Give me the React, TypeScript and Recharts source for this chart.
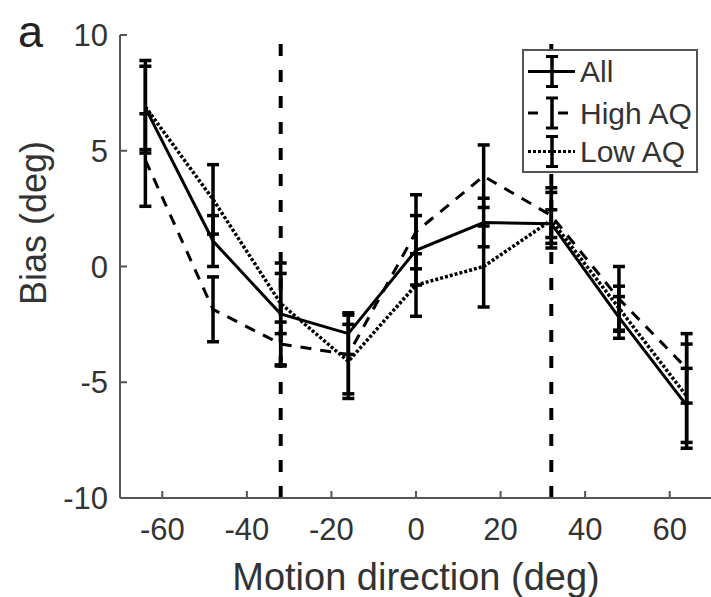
import React from "react";
import {
  ComposedChart,
  Line,
  XAxis,
  YAxis,
  ErrorBar,
  ReferenceLine,
  Label,
} from "recharts";

const directions = [-64, -48, -32, -16, 0, 16, 32, 48, 64];
const allBias = [6.85, 1.1, -2.05, -2.9, 0.7, 1.9, 1.85, -2.2, -6.0];
const allErr = [1.8, 1.1, 2.2, 0.9, 1.5, 1.05, 0.6, 0.9, 1.6];
const highBias = [4.6, -1.85, -3.35, -3.8, 1.5, 3.9, 2.2, -1.4, -4.4];
const highErr = [2.0, 1.4, 0.95, 1.7, 1.6, 1.35, 1.2, 1.4, 1.5];
const lowBias = [6.9, 2.9, -1.6, -4.1, -0.8, 0.0, 2.0, -1.8, -5.6];
const lowErr = [2.0, 1.5, 1.3, 1.6, 1.35, 1.75, 1.2, 0.95, 2.25];

const xTicks = [-60, -40, -20, 0, 20, 40, 60];
const yTicks = [-10, -5, 0, 5, 10];
const boundaries = [-32, 32];

const seriesNames = ["All", "High AQ", "Low AQ"];

const data = directions.map((d, i) => ({
  dir: d,
  all: allBias[i],
  allErr: allErr[i],
  high: highBias[i],
  highErr: highErr[i],
  low: lowBias[i],
  lowErr: lowErr[i],
}));

const FONT = "'Liberation Sans', Arial, Helvetica, sans-serif";
const TEXT = "#333";
const AXIS = "#555";
const TICK_LEN = 7;
const Y_MARGIN = 12;
const X_MARGIN = 20;
const TICK_FONT = 31;

const LeftTick = (props: any) => {
  const { x, y, payload } = props;
  return (
    <g>
      <line x1={x + Y_MARGIN} x2={x + Y_MARGIN + TICK_LEN} y1={y} y2={y} stroke={AXIS} strokeWidth={2} />
      <text x={x} y={y} dy="0.355em" textAnchor="end" fill={TEXT} fontSize={TICK_FONT} fontFamily={FONT}>
        {payload.value}
      </text>
    </g>
  );
};

const RightTick = (props: any) => {
  const { x, y } = props;
  return <line x1={x - TICK_LEN} x2={x} y1={y} y2={y} stroke={AXIS} strokeWidth={2} />;
};

const BottomTick = (props: any) => {
  const { x, y, payload } = props;
  return (
    <g>
      <line x1={x} x2={x} y1={y - X_MARGIN} y2={y - X_MARGIN - TICK_LEN} stroke={AXIS} strokeWidth={2} />
      <text x={x} y={y} dy="0.71em" textAnchor="middle" fill={TEXT} fontSize={TICK_FONT} fontFamily={FONT}>
        {payload.value}
      </text>
    </g>
  );
};

const TopTick = (props: any) => {
  const { x, y } = props;
  return <line x1={x} x2={x} y1={y} y2={y + TICK_LEN} stroke={AXIS} strokeWidth={2} />;
};

const YLabelContent = () => {
  const cx = 33;
  const cy = 223;
  return (
    <g>
      <text
        x={cx}
        y={cy}
        transform={`rotate(-90, ${cx}, ${cy})`}
        textAnchor="middle"
        dominantBaseline="central"
        fill={TEXT}
        fontSize={36}
        fontFamily={FONT}
      >
        Bias (deg)
      </text>
      <text x={18} y={47} fill="#222" fontSize={45} fontFamily={FONT}>
        a
      </text>
    </g>
  );
};

const LegendBox = () => {
  const rows = [
    { name: seriesNames[0], dash: undefined as string | undefined, y: 22.5 },
    { name: seriesNames[1], dash: "10 9", y: 64 },
    { name: seriesNames[2], dash: "3 2", y: 102.5 },
  ];
  return (
    <svg width={176} height={124} style={{ display: "block" }}>
      <rect x={1} y={1} width={174} height={122} fill="#fff" stroke={AXIS} strokeWidth={2} />
      {rows.map((r) => (
        <g key={r.name}>
          {r.dash === "10 9" ? (
            <g>
              <line x1={6} x2={16} y1={r.y} y2={r.y} stroke="#000" strokeWidth={3} />
              <line x1={36} x2={46} y1={r.y} y2={r.y} stroke="#000" strokeWidth={3} />
            </g>
          ) : (
            <line x1={6} x2={53} y1={r.y} y2={r.y} stroke="#000" strokeWidth={3} strokeDasharray={r.dash} />
          )}
          <line x1={30} x2={30} y1={r.y - 15} y2={r.y + 15} stroke="#000" strokeWidth={3.5} />
          <line x1={24} x2={36} y1={r.y - 15} y2={r.y - 15} stroke="#000" strokeWidth={3} />
          <line x1={24} x2={36} y1={r.y + 15} y2={r.y + 15} stroke="#000" strokeWidth={3} />
          <text x={58} y={r.y} dy="0.355em" fill={TEXT} fontSize={30} fontFamily={FONT}>
            {r.name}
          </text>
        </g>
      ))}
    </svg>
  );
};

export default function App() {
  return (
    <div
      style={{
        position: "absolute",
        left: 0,
        top: 0,
        width: 711,
        height: 597,
        overflow: "hidden",
        background: "#fff",
      }}
    >
      <ComposedChart
        width={720}
        height={597}
        data={data}
        margin={{ top: 35, right: 8, bottom: 0, left: 0 }}
      >
        <XAxis
          xAxisId="bottom"
          dataKey="dir"
          type="number"
          domain={[-70, 70]}
          ticks={xTicks}
          tick={<BottomTick />}
          tickLine={false}
          tickSize={0}
          tickMargin={X_MARGIN}
          height={99}
          stroke={AXIS}
          strokeWidth={2}
          allowDataOverflow
        >
          <Label
            value="Motion direction (deg)"
            position="insideBottom"
            offset={7}
            fill={TEXT}
            fontSize={38}
            fontFamily={FONT}
          />
        </XAxis>
        <XAxis
          xAxisId="top"
          orientation="top"
          dataKey="dir"
          type="number"
          domain={[-70, 70]}
          ticks={xTicks}
          tick={<TopTick />}
          tickLine={false}
          tickSize={0}
          tickMargin={0}
          height={0}
          stroke={AXIS}
          strokeWidth={2}
          allowDataOverflow
        />
        <YAxis
          yAxisId="left"
          type="number"
          domain={[-10, 10]}
          ticks={yTicks}
          tick={<LeftTick />}
          tickLine={false}
          tickSize={0}
          tickMargin={Y_MARGIN}
          width={120}
          stroke={AXIS}
          strokeWidth={2}
          allowDataOverflow
        >
          <Label content={<YLabelContent />} />
        </YAxis>
        <YAxis
          yAxisId="right"
          orientation="right"
          type="number"
          domain={[-10, 10]}
          ticks={yTicks}
          tick={<RightTick />}
          tickLine={false}
          tickSize={0}
          tickMargin={0}
          width={0}
          stroke={AXIS}
          strokeWidth={2}
          allowDataOverflow
        />
        {boundaries.map((b) => (
          <ReferenceLine
            key={b}
            x={b}
            xAxisId="bottom"
            yAxisId="left"
            stroke="#000"
            strokeWidth={4}
            strokeDasharray="12 14"
          />
        ))}
        <Line
          xAxisId="bottom"
          yAxisId="left"
          type="linear"
          dataKey="low"
          name={seriesNames[2]}
          stroke="#000"
          strokeWidth={3.5}
          strokeDasharray="3 2"
          dot={false}
          isAnimationActive={false}
        >
          <ErrorBar dataKey="lowErr" width={6} strokeWidth={3.5} stroke="#000" direction="y" />
        </Line>
        <Line
          xAxisId="bottom"
          yAxisId="left"
          type="linear"
          dataKey="high"
          name={seriesNames[1]}
          stroke="#000"
          strokeWidth={3}
          strokeDasharray="11 9"
          dot={false}
          isAnimationActive={false}
        >
          <ErrorBar dataKey="highErr" width={6} strokeWidth={3.5} stroke="#000" direction="y" />
        </Line>
        <Line
          xAxisId="bottom"
          yAxisId="left"
          type="linear"
          dataKey="all"
          name={seriesNames[0]}
          stroke="#000"
          strokeWidth={3}
          dot={false}
          isAnimationActive={false}
        >
          <ErrorBar dataKey="allErr" width={6} strokeWidth={3.5} stroke="#000" direction="y" />
        </Line>
      </ComposedChart>
      <div style={{ position: "absolute", left: 522, top: 49, width: 176, height: 124 }}>
        <LegendBox />
      </div>
    </div>
  );
}
